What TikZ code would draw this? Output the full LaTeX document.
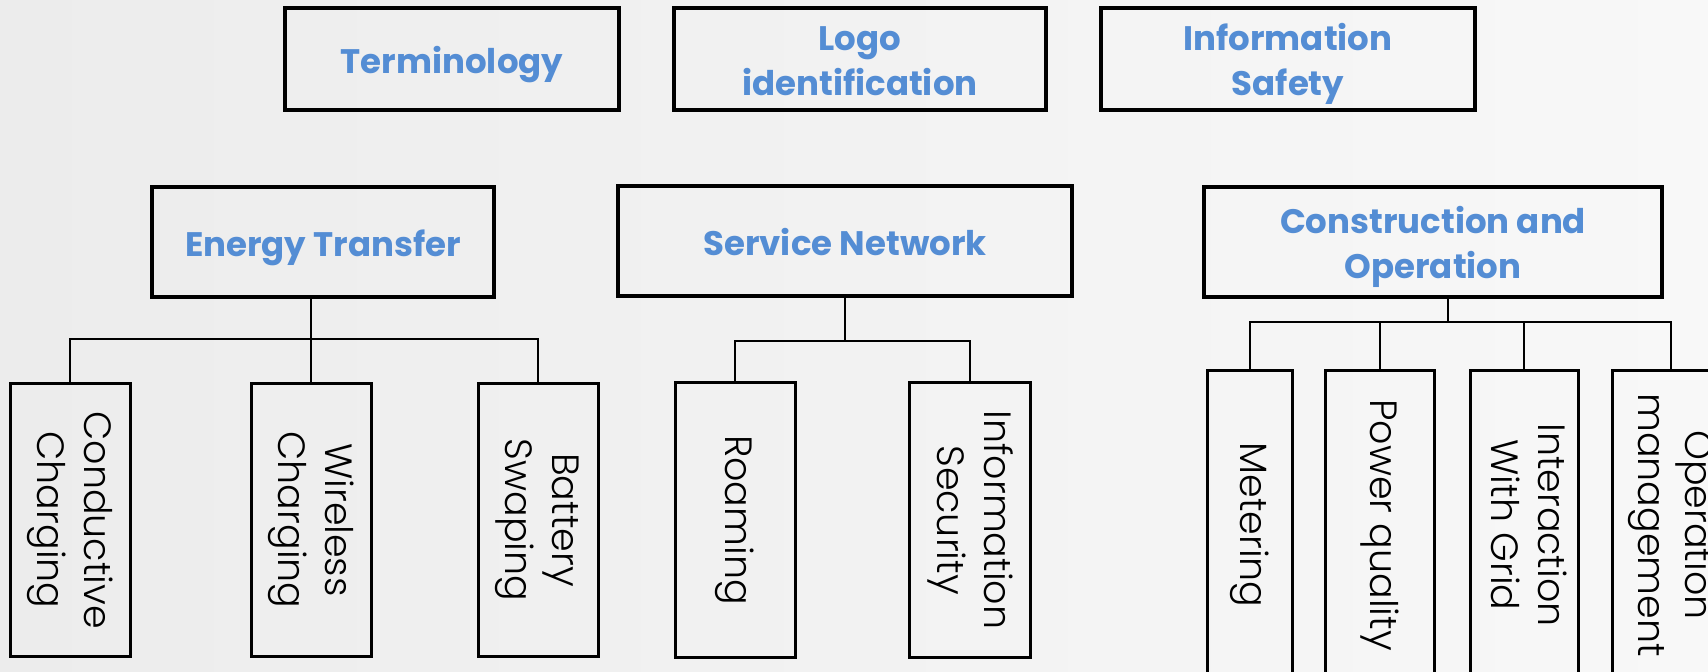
\documentclass[tikz,border=0pt]{standalone}
\usepackage{fontspec}
\usepackage{graphicx}
\setmainfont{Poppins}
\newfontfamily\leaffont{Poppins Light}
\definecolor{titleblue}{RGB}{84,141,212}
\definecolor{bgleft}{RGB}{236,236,236}
\definecolor{bgright}{RGB}{248,248,248}
\newcommand{\vlabel}[1]{\rotatebox{-90}{\begin{tabular}{@{}c@{}}#1\end{tabular}}}
\newcommand{\ttl}[1]{\raisebox{-2.7pt}[\height][\depth]{\begin{tabular}{@{}c@{}}#1\end{tabular}}}

\tikzset{
  topbox/.style={draw, line width=2.2pt, minimum height=51pt, text=titleblue,
    font=\bfseries\fontsize{17}{22.5}\selectfont, inner sep=2pt},
  leafbox/.style={draw, line width=1.5pt, inner sep=0pt,
    font=\leaffont\fontsize{19}{23.5}\selectfont},
  link/.style={line width=0.9pt}
}

\begin{document}
\begin{tikzpicture}[x=0.5pt,y=-0.5pt]
  \shade[left color=bgleft, right color=bgright] (0,0) rectangle (1708,671);
  \useasboundingbox (0,0) rectangle (1708,671);
  \clip (0,0) rectangle (1708,671);

  % top row
  \node[topbox, minimum width=167pt] (term) at (452,59) {\ttl{Terminology}};
  \node[topbox, minimum width=186pt] (logo) at (860,59) {\ttl{Logo\\identification}};
  \node[topbox, minimum width=187pt] (infosafe) at (1288,59) {\ttl{Information\\Safety}};

  % second row
  \node[topbox, minimum width=171pt, minimum height=55pt] (energy) at (323,242) {\ttl{Energy Transfer}};
  \node[topbox, minimum width=227pt, minimum height=55pt] (service) at (845,241) {\ttl{Service Network}};
  \node[topbox, minimum width=229pt, minimum height=55pt] (constr) at (1433,242) {\ttl{Construction and\\Operation}};

  % leaves
  \node[leafbox, minimum width=60pt, minimum height=136.5pt] (cond) at (70,520) {\vlabel{Conductive\\Charging}};
  \node[leafbox, minimum width=60pt, minimum height=136.5pt] (wire) at (311,520) {\vlabel{Wireless\\Charging}};
  \node[leafbox, minimum width=60pt, minimum height=136.5pt] (batt) at (538,520) {\vlabel{Battery\\Swaping}};
  \node[leafbox, minimum width=60pt, minimum height=137.5pt] (roam) at (735,520) {\vlabel{Roaming}};
  \node[leafbox, minimum width=60.5pt, minimum height=137.5pt] (isec) at (970,520) {\vlabel{Information\\Security}};
  \node[leafbox, minimum width=42.5pt, minimum height=154.5pt] (meter) at (1250,525) {\vlabel{Metering}};
  \node[leafbox, minimum width=54.5pt, minimum height=154.5pt] (power) at (1380,525) {\vlabel{Power quality}};
  \node[leafbox, minimum width=54pt, minimum height=154.5pt] (inter) at (1524,525) {\vlabel{Interaction\\With Grid}};
  \node[leafbox, minimum width=59pt, minimum height=154.5pt] (opman) at (1671,525) {\vlabel{Operation\\management}};

  % connectors
  \coordinate (ebus) at (311,339);
  \coordinate (sbus) at (845,341);
  \coordinate (cbus) at (1448,322);

  \draw[link] (energy.south -| ebus) -- (ebus);
  \draw[link] (cond.north) |- (ebus) -| (batt.north);
  \draw[link] (wire.north) -- (ebus);

  \draw[link] (service.south) -- (sbus);
  \draw[link] (roam.north) |- (sbus) -| (isec.north);

  \draw[link] (constr.south -| cbus) -- (cbus);
  \draw[link] (meter.north) |- (cbus) -| (opman.north);
  \draw[link] (power.north) -- (power.north |- cbus);
  \draw[link] (inter.north) -- (inter.north |- cbus);
\end{tikzpicture}
\end{document}
